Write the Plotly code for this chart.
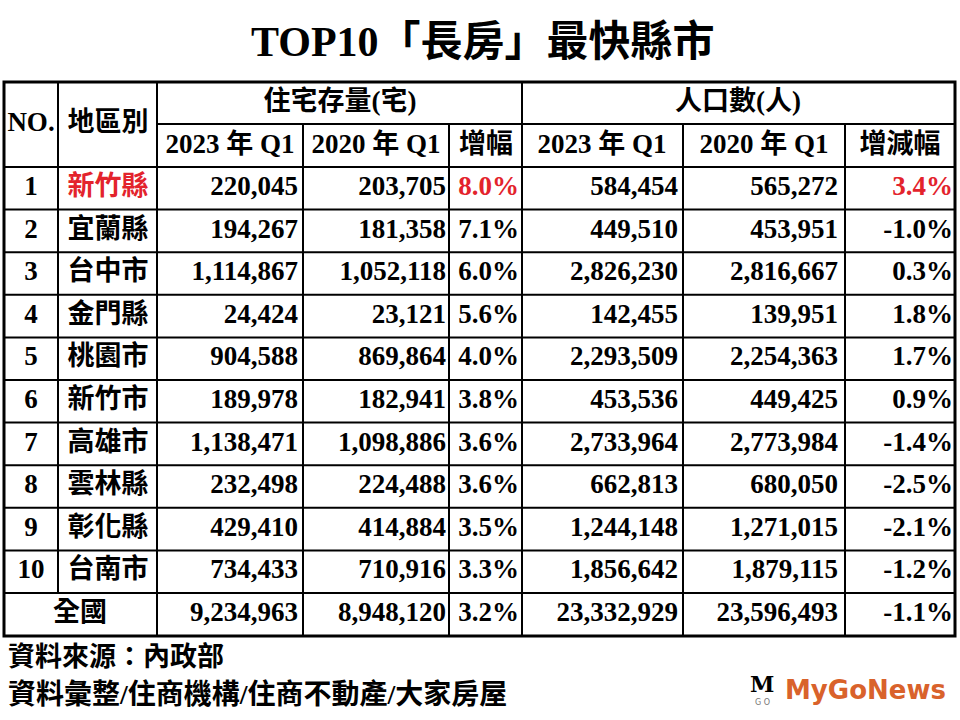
import plotly.graph_objects as go

title = "TOP10「長房」最快縣市"
nos = ["1", "2", "3", "4", "5", "6", "7", "8", "9", "10"]
regions = ["新竹縣", "宜蘭縣", "台中市", "金門縣", "桃園市", "新竹市", "高雄市", "雲林縣", "彰化縣", "台南市"]
house_2023 = [220045, 194267, 1114867, 24424, 904588, 189978, 1138471, 232498, 429410, 734433]
house_2020 = [203705, 181358, 1052118, 23121, 869864, 182941, 1098886, 224488, 414884, 710916]
house_growth = [8.0, 7.1, 6.0, 5.6, 4.0, 3.8, 3.6, 3.6, 3.5, 3.3]
pop_2023 = [584454, 449510, 2826230, 142455, 2293509, 453536, 2733964, 662813, 1244148, 1856642]
pop_2020 = [565272, 453951, 2816667, 139951, 2254363, 449425, 2773984, 680050, 1271015, 1879115]
pop_change = [3.4, -1.0, 0.3, 1.8, 1.7, 0.9, -1.4, -2.5, -2.1, -1.2]
national = ["全國", 9234963, 8948120, 3.2, 23332929, 23596493, -1.1]
source_lines = ["資料來源：內政部", "資料彙整/住商機構/住商不動產/大家房屋"]

RED = "#e3232c"
FONT = "Liberation Serif, Noto Sans CJK TC"
SZ = 27

# table geometry (pixel-like axis units)
cols = [4, 58, 157, 303, 449, 522, 683, 845, 955]
top, h1, h2 = 82, 124, 167
rowh = (593 - 167) / 10
bottom = 636


def row_y(i):
    return h2 + (i + 0.5) * rowh


fig = go.Figure()

all_y = [row_y(i) for i in range(11)]


def add_col(x, texts, pos, colors="black", size=SZ):
    fig.add_trace(go.Scatter(
        x=[x] * len(texts), y=all_y[:len(texts)], mode="text", text=texts,
        textposition=pos, hoverinfo="skip",
        textfont=dict(family=FONT, size=size, color=colors, weight="bold"),
    ))


def pct(v):
    return f"{v:.1f}%"


red_first = [RED] + ["black"] * 10

add_col(31, nos, "middle center")
add_col(108, regions, "middle center", red_first[:10])
add_col(298, [f"{v:,}" for v in house_2023 + [national[1]]], "middle left")
add_col(446, [f"{v:,}" for v in house_2020 + [national[2]]], "middle left")
add_col(519, [pct(v) for v in house_growth + [national[3]]], "middle left", red_first)
add_col(678, [f"{v:,}" for v in pop_2023 + [national[4]]], "middle left")
add_col(838, [f"{v:,}" for v in pop_2020 + [national[5]]], "middle left")
add_col(953, [pct(v) for v in pop_change + [national[6]]], "middle left", red_first)

# national label spans the first two columns
fig.add_trace(go.Scatter(
    x=[80], y=[row_y(10)], mode="text", text=[national[0]], hoverinfo="skip",
    textfont=dict(family=FONT, size=SZ, color="black", weight="bold"),
))

# header texts
hdr = [
    (31, 124, "NO."), (108, 124, "地區別"),
    (340, 103, "住宅存量(宅)"), (738, 103, "人口數(人)"),
    (230, 146, "2023 年 Q1"), (376, 146, "2020 年 Q1"), (486, 146, "增幅"),
    (602, 146, "2023 年 Q1"), (764, 146, "2020 年 Q1"), (900, 146, "增減幅"),
]
fig.add_trace(go.Scatter(
    x=[a[0] for a in hdr], y=[a[1] for a in hdr], mode="text",
    text=[a[2] for a in hdr], hoverinfo="skip",
    textfont=dict(family=FONT, size=SZ, color="black", weight="bold"),
))

# grid lines
line = dict(color="black", width=2)
shapes = []
for i in range(1, 11):
    y = h2 + i * rowh
    shapes.append(dict(type="line", x0=cols[0], x1=cols[-1], y0=y, y1=y, line=line))
shapes.append(dict(type="line", x0=cols[0], x1=cols[-1], y0=h2, y1=h2, line=line))
shapes.append(dict(type="line", x0=cols[2], x1=cols[-1], y0=h1, y1=h1, line=line))
shapes.append(dict(type="line", x0=cols[1], x1=cols[1], y0=top, y1=h2 + 10 * rowh, line=line))
for c in (cols[2], cols[5]):
    shapes.append(dict(type="line", x0=c, x1=c, y0=top, y1=bottom, line=line))
for c in (cols[3], cols[4], cols[6], cols[7]):
    shapes.append(dict(type="line", x0=c, x1=c, y0=h1, y1=bottom, line=line))
shapes.append(dict(type="rect", x0=cols[0], x1=cols[-1], y0=top, y1=bottom,
                   line=dict(color="black", width=3)))

annotations = [
    dict(x=483, y=42, text=title, showarrow=False,
         font=dict(family=FONT, size=42, color="black", weight="bold")),
    dict(x=6, y=657, text=source_lines[0], showarrow=False, xanchor="left",
         font=dict(family=FONT, size=27, color="black", weight="bold")),
    dict(x=6, y=694, text=source_lines[1], showarrow=False, xanchor="left",
         font=dict(family=FONT, size=28, color="black", weight="bold")),
    dict(x=783, y=690, text="MyGoNews", showarrow=False, xanchor="left",
         font=dict(family="DejaVu Sans", size=26, color="#d9622b", weight="bold")),
    dict(x=762, y=684, text="M", showarrow=False,
         font=dict(family="DejaVu Serif", size=22, color="black", weight="bold")),
    dict(x=762, y=702, text="G O", showarrow=False,
         font=dict(family="DejaVu Sans", size=8, color="#777777")),
]

fig.update_layout(
    width=960, height=720, margin=dict(l=0, r=0, t=0, b=0),
    paper_bgcolor="white", plot_bgcolor="white", showlegend=False,
    xaxis=dict(range=[0, 960], visible=False, fixedrange=True),
    yaxis=dict(range=[720, 0], visible=False, fixedrange=True),
    shapes=shapes, annotations=annotations,
)

# drop the default body margin so axis units line up with window pixels
fig.write_html("out.html", config={"displayModeBar": False},
               post_script="document.body.style.margin='0';")
